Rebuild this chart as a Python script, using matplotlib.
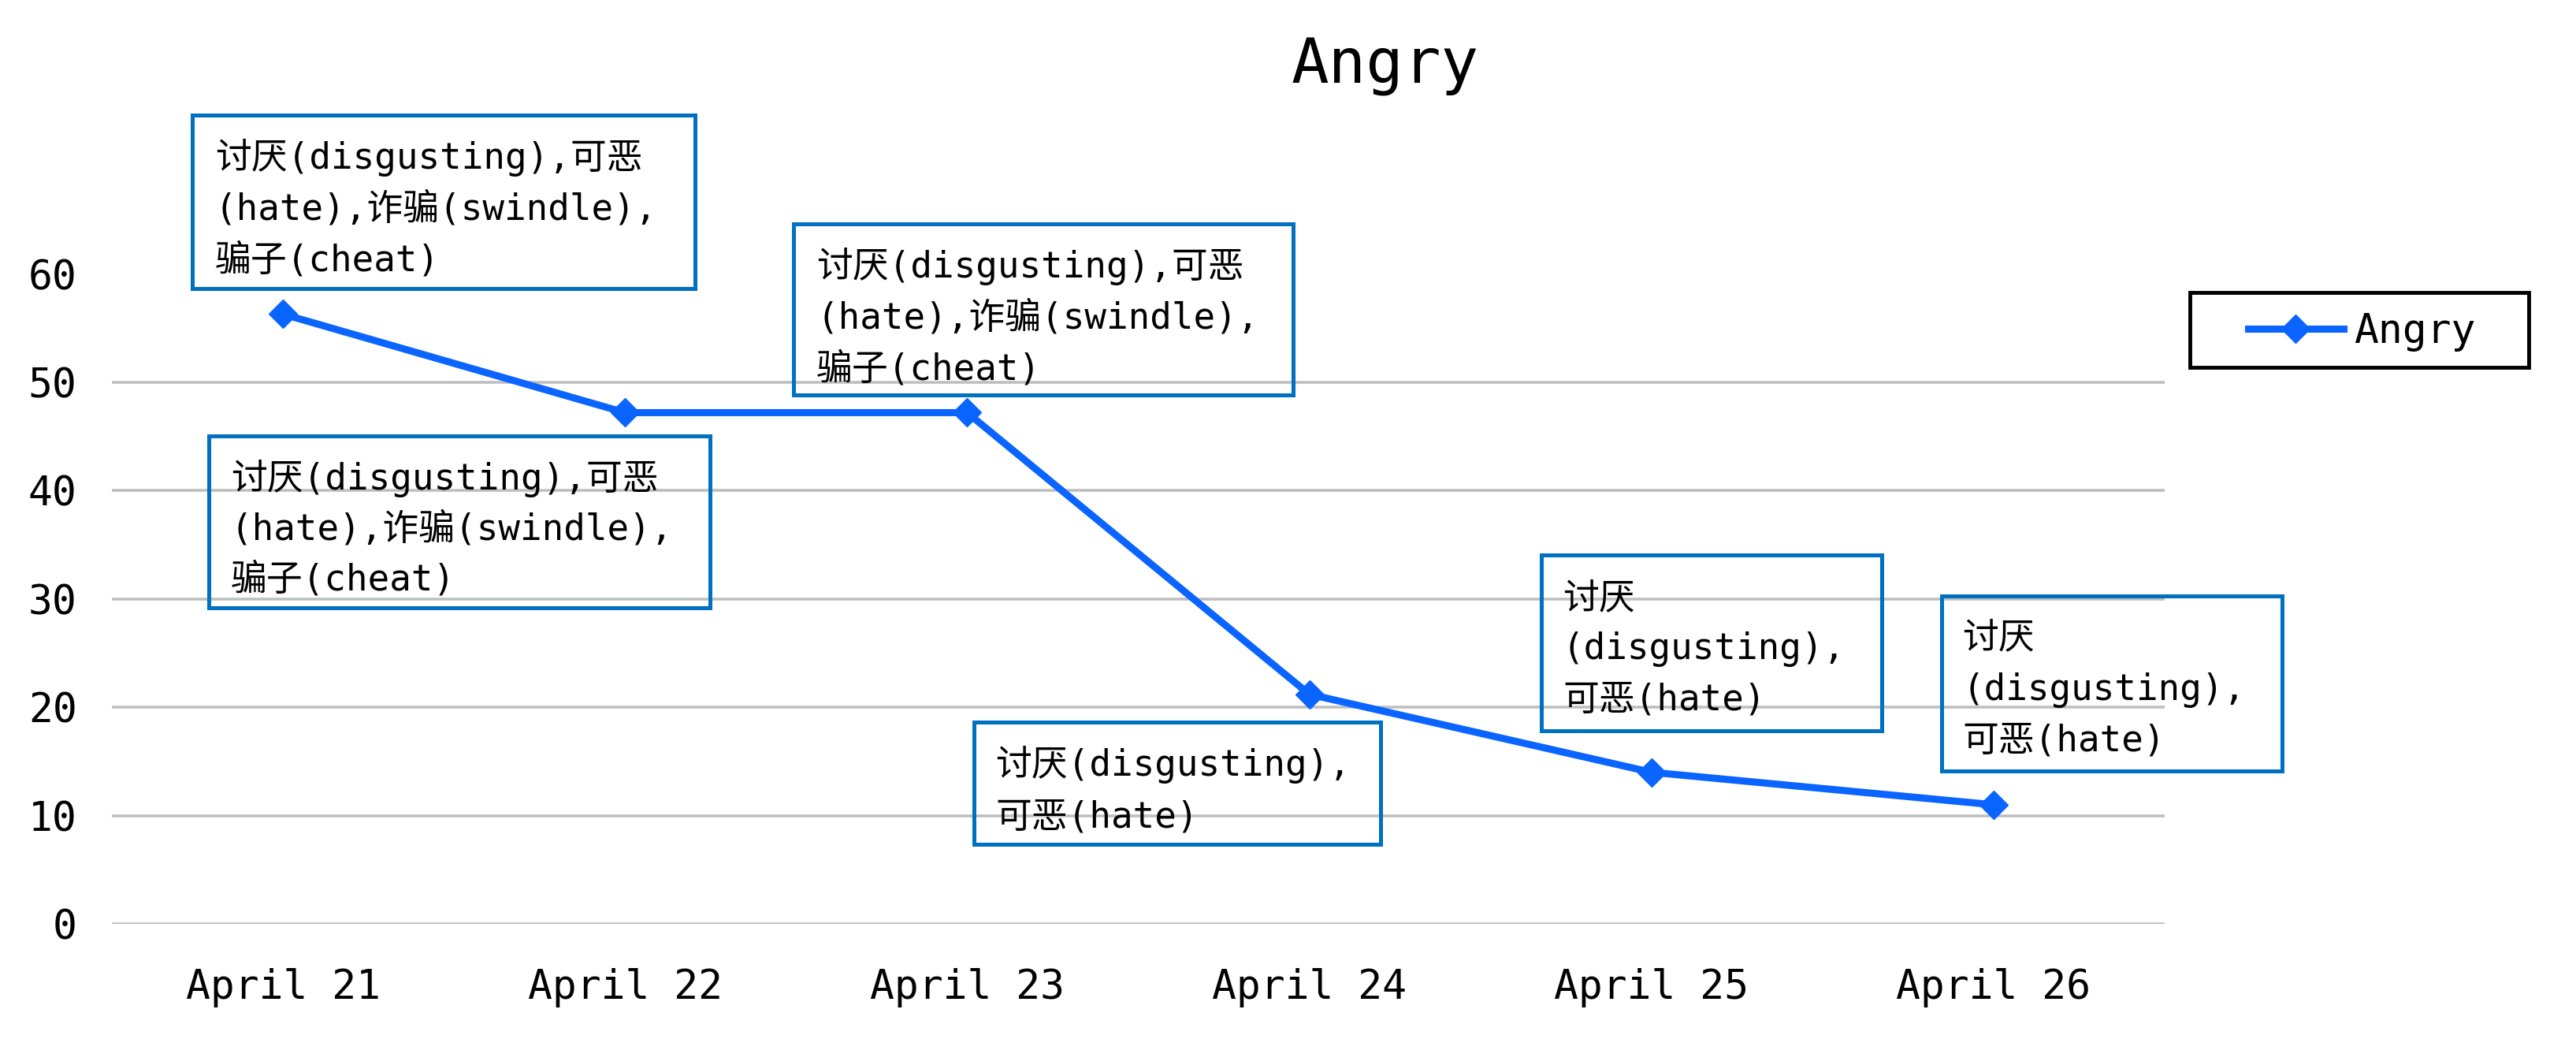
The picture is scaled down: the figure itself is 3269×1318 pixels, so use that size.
import matplotlib
matplotlib.use("Agg")
import matplotlib.pyplot as plt
from matplotlib.patches import Rectangle

# ---------------- data ----------------
categories = ["April 21", "April 22", "April 23", "April 24", "April 25", "April 26"]
angry_values = [56.3, 47.2, 47.2, 21.2, 14.0, 11.0]
series_name = "Angry"
y_ticks = [0, 10, 20, 30, 40, 50, 60]

note_full = ["讨厌(disgusting),可恶", "(hate),诈骗(swindle),", "骗子(cheat)"]
note_two = ["讨厌(disgusting),", "可恶(hate)"]
note_wrap = ["讨厌", "(disgusting),", "可恶(hate)"]
annotations = [note_full, note_full, note_full, note_two, note_wrap, note_wrap]

# ---------------- layout (pixel coordinates, top-left origin) ----------------
W, H = 3269, 1318
FONT = ["DejaVu Sans Mono", "Noto Sans CJK SC"]
plt.rcParams["font.family"] = FONT

LINE_COLOR = "#0A64FF"
BOX_COLOR = "#0070C0"
GRID_COLOR = "#BFBFBF"

def fx(x):
    return x / W

def fy(y):
    return 1 - y / H

fig = plt.figure(figsize=(W / 100, H / 100), dpi=100)
ax_left, ax_right, ax_bottom, ax_top = 142, 2747, 1172, 347.6
ax = fig.add_axes([fx(ax_left), fy(ax_bottom), (ax_right - ax_left) / W, (ax_bottom - ax_top) / H])

x = list(range(len(categories)))
ax.plot(x, angry_values, color=LINE_COLOR, lw=6.5, marker="D", ms=18,
        markeredgecolor=LINE_COLOR, label=series_name, zorder=3, clip_on=False)

ax.set_xlim(-0.5, len(categories) - 0.5)
ax.set_ylim(y_ticks[0], y_ticks[-1])
ax.set_xticks(x)
ax.set_xticklabels(categories)
ax.set_yticks(y_ticks)
for t in y_ticks[:-1]:
    ax.axhline(t, color=GRID_COLOR, lw=2.6, zorder=1)
for s in ax.spines.values():
    s.set_visible(False)
ax.tick_params(axis="x", length=0, pad=40, labelsize=37)
ax.tick_params(axis="y", length=0, pad=32, labelsize=37)

# title
fig.text(fx(1758), fy(105), "Angry", ha="center", va="baseline", fontsize=57)

# annotation boxes: (left, top, right, bottom, text_left, first_line_center, line_step)
boxes = [
    (244, 146, 882, 366, 273, 200, 65.5),
    (265, 553, 901, 771, 293, 607, 64.5),
    (1007, 284, 1641, 501, 1036, 338, 65.5),
    (1236, 916, 1752, 1071, 1263, 970, 67),
    (1956, 704, 2388, 927, 1983, 760, 64),
    (2464, 756, 2896, 978, 2490, 810, 65),
]
for (l, t, r, b, tl, c0, step), lines in zip(boxes, annotations):
    fig.add_artist(Rectangle((fx(l), fy(b)), (r - l) / W, (b - t) / H,
                             transform=fig.transFigure, fill=False,
                             edgecolor=BOX_COLOR, lw=3.6, zorder=5))
    for i, line in enumerate(lines):
        fig.text(fx(tl), fy(c0 + i * step), line, ha="left", va="center",
                 fontsize=33, zorder=6)

# legend
leg = fig.legend(handles=ax.get_lines(), labels=[series_name], loc="center left",
                 bbox_to_anchor=(fx(2853), fy(421)), frameon=False, fontsize=37,
                 handlelength=2.35, handletextpad=0.25, borderpad=0, borderaxespad=0)
fig.add_artist(Rectangle((fx(2779), fy(466)), (3209 - 2779) / W, (466 - 371) / H,
                         transform=fig.transFigure, fill=False,
                         edgecolor="black", lw=3.5, zorder=5))

fig.savefig("out.png", dpi=100)
